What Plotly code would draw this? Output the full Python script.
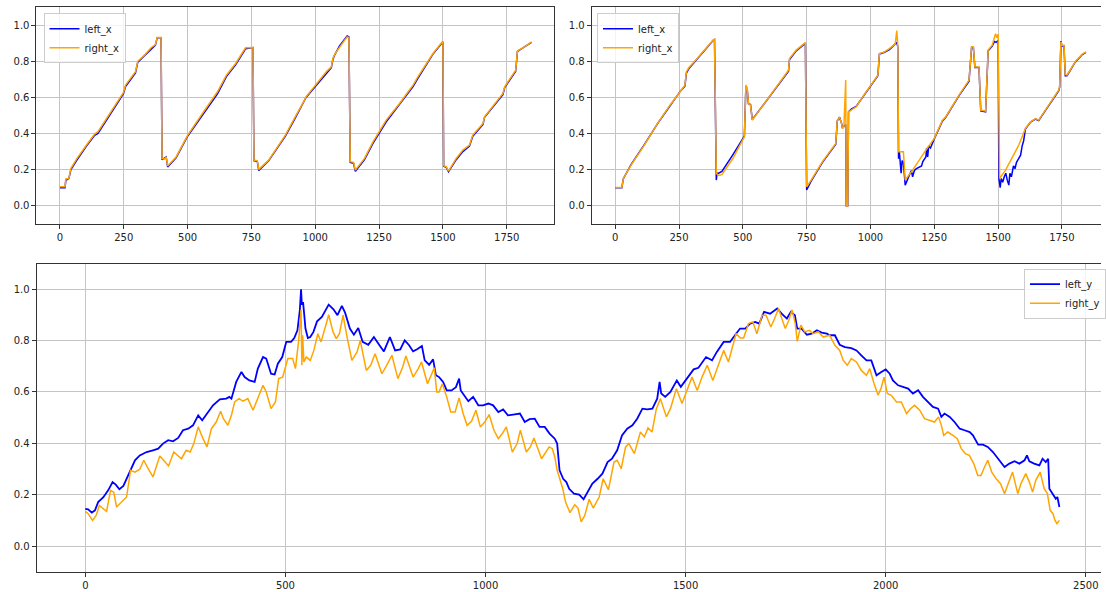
import plotly.graph_objects as go

# ---------------- top-left panel (left_x / right_x) ----------------
tl_idx = [0, 20, 23, 35, 43, 65, 104, 136, 149, 182, 221, 249, 257, 296, 305, 331, 357, 374, 381, 396,
          400, 409, 416, 422, 455, 500, 558, 617, 652, 688, 721, 727, 756, 760, 773, 779, 818, 883, 922, 945,
          958, 964, 997, 1043, 1063, 1069, 1076, 1095, 1115, 1125, 1132, 1137, 1150, 1157, 1193, 1226, 1278, 1330, 1383, 1402,
          1435, 1461, 1487, 1500, 1503, 1513, 1522, 1552, 1578, 1604, 1617, 1657, 1663, 1709, 1735, 1742, 1785, 1792, 1820, 1847]
tl_right_x = [0.105, 0.105, 0.148, 0.151, 0.207, 0.258, 0.336, 0.397, 0.41, 0.483, 0.566, 0.627, 0.668, 0.742, 0.80, 0.834, 0.875, 0.893, 0.932, 0.932,
              0.262, 0.258, 0.27, 0.22, 0.27, 0.39, 0.511, 0.631, 0.723, 0.788, 0.862, 0.875, 0.876, 0.253, 0.249, 0.201, 0.253, 0.391, 0.493, 0.548,
              0.585, 0.603, 0.659, 0.742, 0.769, 0.815, 0.838, 0.88, 0.917, 0.935, 0.932, 0.244, 0.24, 0.197, 0.262, 0.354, 0.474, 0.566, 0.668, 0.714,
              0.788, 0.843, 0.889, 0.911, 0.221, 0.216, 0.192, 0.262, 0.308, 0.336, 0.391, 0.456, 0.493, 0.576, 0.622, 0.659, 0.751, 0.858, 0.880, 0.908]
tl_left_x = [0.10, 0.10, 0.14, 0.15, 0.20, 0.25, 0.33, 0.39, 0.40, 0.475, 0.56, 0.62, 0.66, 0.735, 0.795, 0.83, 0.87, 0.89, 0.93, 0.93,
             0.255, 0.265, 0.27, 0.215, 0.265, 0.385, 0.50, 0.62, 0.715, 0.78, 0.855, 0.87, 0.876, 0.25, 0.245, 0.195, 0.25, 0.385, 0.487, 0.545,
             0.58, 0.60, 0.655, 0.735, 0.765, 0.81, 0.835, 0.885, 0.925, 0.94, 0.935, 0.24, 0.235, 0.19, 0.255, 0.345, 0.465, 0.56, 0.66, 0.705,
             0.78, 0.84, 0.885, 0.908, 0.218, 0.212, 0.188, 0.255, 0.30, 0.33, 0.385, 0.45, 0.49, 0.57, 0.615, 0.655, 0.745, 0.855, 0.878, 0.905]

# ---------------- top-right panel ----------------
tr_right_idx = [0, 26, 32, 62, 114, 166, 217, 256, 273, 279, 288, 321, 359, 383, 389, 396, 405, 418, 460, 502,
                506, 512, 517, 522, 530, 537, 579, 631, 679, 683, 709, 741, 745, 750, 767, 812, 864, 870, 879, 887,
                890, 896, 903, 905, 911, 914, 925, 944, 983, 1029, 1035, 1055, 1074, 1097, 1103, 1107, 1110, 1129, 1136, 1165,
                1217, 1250, 1282, 1295, 1347, 1386, 1396, 1403, 1409, 1425, 1432, 1451, 1461, 1477, 1486, 1490, 1495, 1500, 1506, 1529,
                1581, 1601, 1607, 1627, 1646, 1659, 1685, 1711, 1737, 1741, 1746, 1750, 1758, 1763, 1770, 1802, 1828, 1844]
tr_right_x = [0.101, 0.101, 0.151, 0.225, 0.336, 0.456, 0.561, 0.640, 0.668, 0.742, 0.764, 0.815, 0.88, 0.917, 0.921, 0.179, 0.168, 0.172, 0.26, 0.37,
              0.382, 0.668, 0.653, 0.567, 0.557, 0.474, 0.557, 0.659, 0.751, 0.815, 0.862, 0.899, 0.904, 0.105, 0.14, 0.244, 0.345, 0.474, 0.487, 0.456,
              0.428, 0.437, 0.696, 0.0, 0.0, 0.52, 0.53, 0.548, 0.631, 0.723, 0.843, 0.852, 0.87, 0.897, 0.97, 0.887, 0.299, 0.299, 0.142, 0.197,
              0.308, 0.373, 0.474, 0.493, 0.613, 0.696, 0.88, 0.88, 0.769, 0.769, 0.53, 0.524, 0.862, 0.889, 0.935, 0.953, 0.93, 0.95, 0.151, 0.197,
              0.336, 0.40, 0.428, 0.465, 0.483, 0.474, 0.53, 0.585, 0.64, 0.659, 0.908, 0.889, 0.889, 0.727, 0.724, 0.797, 0.838, 0.852]

tr_left_idx = [0, 26, 32, 62, 114, 166, 217, 256, 273, 279, 288, 321, 359, 383, 389, 396, 399, 405, 418, 460,
               502, 506, 512, 517, 522, 530, 537, 579, 631, 679, 683, 709, 741, 745, 750, 767, 812, 864, 870, 879,
               887, 890, 896, 903, 905, 911, 914, 925, 944, 983, 1029, 1035, 1055, 1074, 1097, 1103, 1107, 1110, 1113, 1116,
               1120, 1124, 1129, 1136, 1146, 1155, 1160, 1165, 1172, 1180, 1190, 1200, 1205, 1211, 1217, 1220, 1224, 1228, 1235, 1250,
               1282, 1295, 1347, 1386, 1396, 1403, 1409, 1425, 1432, 1451, 1461, 1477, 1486, 1492, 1500, 1503, 1508, 1512, 1518, 1524,
               1530, 1536, 1542, 1546, 1552, 1560, 1566, 1572, 1580, 1588, 1594, 1600, 1607, 1627, 1646, 1659, 1685, 1711, 1737, 1741,
               1746, 1750, 1758, 1763, 1770, 1802, 1828, 1844]
tr_left_x = [0.10, 0.10, 0.15, 0.228, 0.338, 0.455, 0.558, 0.636, 0.662, 0.735, 0.758, 0.81, 0.875, 0.915, 0.92, 0.142, 0.18, 0.18, 0.19, 0.28,
             0.378, 0.385, 0.66, 0.645, 0.565, 0.56, 0.477, 0.555, 0.655, 0.745, 0.81, 0.858, 0.895, 0.90, 0.087, 0.135, 0.24, 0.34, 0.47, 0.49,
             0.455, 0.43, 0.44, 0.45, 0.0, 0.0, 0.52, 0.535, 0.55, 0.628, 0.72, 0.84, 0.85, 0.865, 0.895, 0.905, 0.88, 0.26, 0.30, 0.22,
             0.18, 0.25, 0.24, 0.114, 0.15, 0.18, 0.195, 0.16, 0.195, 0.205, 0.215, 0.22, 0.245, 0.262, 0.27, 0.32, 0.27, 0.33, 0.32, 0.37,
             0.47, 0.49, 0.61, 0.69, 0.875, 0.875, 0.765, 0.765, 0.525, 0.52, 0.858, 0.885, 0.91, 0.905, 0.915, 0.151, 0.10, 0.15, 0.13, 0.16,
             0.18, 0.14, 0.114, 0.18, 0.16, 0.22, 0.205, 0.24, 0.26, 0.28, 0.33, 0.36, 0.425, 0.463, 0.48, 0.472, 0.527, 0.582, 0.636, 0.655,
             0.912, 0.885, 0.885, 0.72, 0.72, 0.795, 0.835, 0.85]

# ---------------- bottom panel (left_y / right_y) ----------------
ly_idx = [0, 7, 16, 24, 32, 45, 57, 68, 76, 85, 95, 111, 124, 136, 153, 169, 182, 194, 207, 219,
          232, 244, 257, 269, 282, 292, 304, 319, 336, 352, 360, 365, 377, 390, 398, 410, 423, 431, 444, 452,
          464, 473, 481, 492, 502, 514, 522, 530, 536, 539, 541, 544, 547, 550, 556, 562, 570, 579, 591, 608,
          620, 630, 641, 649, 661, 671, 682, 693, 707, 721, 735, 746, 761, 774, 787, 798, 809, 819, 829, 841,
          848, 859, 869, 876, 884, 894, 903, 915, 926, 934, 938, 949, 957, 969, 982, 994, 1007, 1019, 1032, 1044,
          1056, 1069, 1086, 1098, 1110, 1123, 1135, 1148, 1160, 1173, 1179, 1185, 1194, 1202, 1209, 1221, 1234, 1245, 1255, 1267,
          1280, 1292, 1305, 1316, 1329, 1341, 1354, 1367, 1379, 1392, 1404, 1417, 1429, 1435, 1439, 1449, 1462, 1478, 1488, 1503,
          1520, 1532, 1551, 1566, 1578, 1595, 1611, 1626, 1636, 1649, 1661, 1674, 1684, 1696, 1711, 1729, 1740, 1753, 1763, 1773,
          1779, 1790, 1803, 1815, 1828, 1840, 1853, 1860, 1873, 1885, 1898, 1914, 1927, 1939, 1952, 1964, 1977, 1989, 2000, 2010,
          2018, 2031, 2043, 2056, 2068, 2081, 2093, 2106, 2118, 2131, 2139, 2147, 2160, 2172, 2185, 2197, 2210, 2218, 2231, 2243,
          2255, 2268, 2281, 2297, 2309, 2322, 2334, 2347, 2353, 2359, 2371, 2384, 2392, 2400, 2406, 2409, 2417, 2425, 2429, 2434]
left_y = [0.145, 0.143, 0.13, 0.139, 0.171, 0.19, 0.217, 0.249, 0.239, 0.221, 0.234, 0.288, 0.334, 0.353, 0.366, 0.373, 0.379, 0.399, 0.412, 0.408,
          0.421, 0.451, 0.457, 0.47, 0.509, 0.49, 0.516, 0.548, 0.571, 0.574, 0.581, 0.574, 0.639, 0.678, 0.658, 0.645, 0.639, 0.691, 0.736, 0.73,
          0.671, 0.668, 0.71, 0.736, 0.795, 0.795, 0.81, 0.84, 0.92, 1.0, 0.94, 0.95, 0.90, 0.847, 0.81, 0.814, 0.834, 0.875, 0.892, 0.94,
          0.922, 0.899, 0.935, 0.909, 0.847, 0.823, 0.849, 0.795, 0.784, 0.814, 0.782, 0.758, 0.814, 0.762, 0.766, 0.801, 0.782, 0.758, 0.766, 0.779,
          0.723, 0.706, 0.727, 0.665, 0.658, 0.639, 0.606, 0.606, 0.619, 0.652, 0.606, 0.581, 0.564, 0.581, 0.548, 0.548, 0.555, 0.548, 0.522, 0.532,
          0.509, 0.512, 0.516, 0.483, 0.494, 0.496, 0.464, 0.464, 0.438, 0.418, 0.399, 0.295, 0.262, 0.249, 0.223, 0.204, 0.2, 0.182, 0.21, 0.243,
          0.262, 0.282, 0.327, 0.34, 0.373, 0.431, 0.457, 0.47, 0.496, 0.535, 0.532, 0.535, 0.574, 0.639, 0.594, 0.581, 0.6, 0.645, 0.62, 0.652,
          0.688, 0.694, 0.736, 0.723, 0.756, 0.795, 0.795, 0.827, 0.847, 0.847, 0.866, 0.873, 0.866, 0.912, 0.905, 0.925, 0.905, 0.886, 0.912, 0.899,
          0.847, 0.847, 0.823, 0.827, 0.84, 0.831, 0.827, 0.821, 0.821, 0.784, 0.775, 0.771, 0.762, 0.743, 0.723, 0.723, 0.665, 0.678, 0.688, 0.671,
          0.645, 0.626, 0.619, 0.613, 0.594, 0.607, 0.581, 0.561, 0.542, 0.535, 0.503, 0.516, 0.503, 0.483, 0.457, 0.451, 0.444, 0.431, 0.395, 0.395,
          0.386, 0.366, 0.34, 0.308, 0.321, 0.33, 0.321, 0.334, 0.353, 0.33, 0.321, 0.314, 0.34, 0.327, 0.34, 0.223, 0.204, 0.184, 0.191, 0.152]

ry_idx = [0, 7, 18, 27, 35, 45, 53, 63, 71, 78, 86, 96, 103, 113, 124, 136, 146, 157, 169, 186,
          199, 208, 221, 232, 240, 252, 262, 271, 282, 294, 304, 315, 327, 338, 345, 356, 365, 373, 384, 394,
          406, 419, 431, 444, 452, 464, 475, 483, 493, 506, 518, 525, 533, 537, 539, 541, 543, 546, 552, 562,
          571, 581, 589, 602, 608, 619, 627, 635, 644, 654, 666, 679, 687, 702, 713, 724, 741, 753, 766, 781,
          793, 801, 819, 832, 840, 855, 865, 872, 878, 884, 892, 903, 913, 924, 934, 944, 954, 965, 976, 987,
          998, 1009, 1021, 1032, 1042, 1052, 1067, 1079, 1087, 1102, 1112, 1121, 1140, 1150, 1159, 1167, 1173, 1179, 1187, 1193,
          1200, 1211, 1223, 1231, 1239, 1248, 1259, 1269, 1284, 1294, 1307, 1321, 1329, 1339, 1350, 1358, 1372, 1387, 1397, 1406,
          1416, 1427, 1437, 1452, 1462, 1477, 1491, 1504, 1516, 1529, 1541, 1554, 1568, 1583, 1595, 1607, 1620, 1626, 1637, 1645,
          1657, 1668, 1678, 1691, 1701, 1713, 1724, 1732, 1740, 1749, 1758, 1766, 1774, 1779, 1788, 1798, 1809, 1819, 1832, 1844,
          1860, 1873, 1885, 1894, 1904, 1914, 1927, 1939, 1952, 1960, 1971, 1981, 1988, 1996, 2004, 2014, 2027, 2039, 2052, 2062,
          2072, 2085, 2097, 2110, 2122, 2132, 2139, 2145, 2155, 2168, 2179, 2189, 2199, 2209, 2220, 2230, 2238, 2247, 2255, 2265,
          2276, 2287, 2297, 2306, 2317, 2330, 2338, 2350, 2359, 2367, 2375, 2386, 2396, 2404, 2411, 2418, 2423, 2428, 2434]
right_y = [0.135, 0.126, 0.1, 0.119, 0.158, 0.145, 0.135, 0.217, 0.21, 0.152, 0.165, 0.182, 0.191, 0.295, 0.288, 0.299, 0.334, 0.301, 0.269, 0.351,
           0.327, 0.312, 0.366, 0.353, 0.34, 0.373, 0.366, 0.399, 0.464, 0.418, 0.386, 0.457, 0.483, 0.525, 0.496, 0.47, 0.509, 0.561, 0.574, 0.564,
           0.574, 0.529, 0.574, 0.626, 0.6, 0.535, 0.561, 0.652, 0.658, 0.73, 0.73, 0.691, 0.80, 0.866, 0.92, 0.704, 0.821, 0.717, 0.736, 0.723,
           0.762, 0.827, 0.795, 0.866, 0.901, 0.834, 0.808, 0.827, 0.899, 0.814, 0.723, 0.756, 0.801, 0.684, 0.704, 0.749, 0.671, 0.704, 0.743, 0.652,
           0.697, 0.74, 0.658, 0.691, 0.717, 0.632, 0.665, 0.694, 0.6, 0.6, 0.632, 0.581, 0.522, 0.522, 0.577, 0.516, 0.47, 0.486, 0.529, 0.464,
           0.483, 0.512, 0.451, 0.418, 0.438, 0.464, 0.366, 0.399, 0.451, 0.366, 0.386, 0.421, 0.34, 0.366, 0.386, 0.379, 0.347, 0.295, 0.249, 0.223,
           0.171, 0.13, 0.161, 0.148, 0.094, 0.119, 0.182, 0.148, 0.191, 0.262, 0.219, 0.327, 0.334, 0.301, 0.386, 0.399, 0.36, 0.444, 0.425, 0.46,
           0.444, 0.535, 0.574, 0.503, 0.535, 0.613, 0.555, 0.613, 0.658, 0.606, 0.658, 0.704, 0.645, 0.71, 0.762, 0.717, 0.788, 0.827, 0.81, 0.81,
           0.866, 0.873, 0.827, 0.899, 0.899, 0.853, 0.892, 0.925, 0.888, 0.847, 0.879, 0.92, 0.866, 0.797, 0.86, 0.834, 0.84, 0.827, 0.834, 0.814,
           0.821, 0.782, 0.762, 0.723, 0.704, 0.73, 0.717, 0.684, 0.665, 0.691, 0.632, 0.587, 0.613, 0.658, 0.594, 0.587, 0.561, 0.561, 0.516, 0.535,
           0.548, 0.529, 0.496, 0.49, 0.483, 0.503, 0.47, 0.431, 0.444, 0.431, 0.418, 0.379, 0.36, 0.353, 0.321, 0.275, 0.275, 0.308, 0.334, 0.288,
           0.262, 0.243, 0.204, 0.243, 0.288, 0.204, 0.243, 0.282, 0.249, 0.21, 0.256, 0.288, 0.223, 0.204, 0.139, 0.126, 0.1, 0.087, 0.1]

BLUE = "#0000ff"
ORANGE = "#ffa500"
W, H = 1106, 592

fig = go.Figure()
fig.add_trace(go.Scatter(x=tl_idx, y=tl_left_x, name="left_x", mode="lines",
                         line=dict(color=BLUE, width=1.5), xaxis="x", yaxis="y", legend="legend"))
fig.add_trace(go.Scatter(x=tl_idx, y=tl_right_x, name="right_x", mode="lines",
                         line=dict(color=ORANGE, width=1.5), xaxis="x", yaxis="y", legend="legend"))
fig.add_trace(go.Scatter(x=tr_left_idx, y=tr_left_x, name="left_x", mode="lines",
                         line=dict(color=BLUE, width=1.5), xaxis="x2", yaxis="y2", legend="legend2"))
fig.add_trace(go.Scatter(x=tr_right_idx, y=tr_right_x, name="right_x", mode="lines",
                         line=dict(color=ORANGE, width=1.5), xaxis="x2", yaxis="y2", legend="legend2"))
fig.add_trace(go.Scatter(x=ly_idx, y=left_y, name="left_y", mode="lines",
                         line=dict(color=BLUE, width=1.8), xaxis="x3", yaxis="y3", legend="legend3"))
fig.add_trace(go.Scatter(x=ry_idx, y=right_y, name="right_y", mode="lines",
                         line=dict(color=ORANGE, width=1.5), xaxis="x3", yaxis="y3", legend="legend3"))

FONT = dict(family="DejaVu Sans", size=10, color="#222222")
GRID = "#c4c4c4"


def xax(domain, rng, dtick, anchor):
    return dict(domain=domain, range=rng, dtick=dtick, tick0=0, anchor=anchor,
                showgrid=True, gridcolor=GRID, gridwidth=1, zeroline=False,
                showline=True, linecolor="#333333", linewidth=1, mirror=True,
                ticks="outside", ticklen=4, tickcolor="#333333", tickfont=FONT)


def yax(domain, anchor, mirror=True):
    return dict(domain=domain, range=[-0.1, 1.1], dtick=0.2, tick0=0, tickformat=".1f", anchor=anchor,
                showgrid=True, gridcolor=GRID, gridwidth=1, zeroline=False,
                showline=True, linecolor="#333333", linewidth=1, mirror=mirror,
                ticks="outside", ticklen=4, tickcolor="#333333", tickfont=FONT)


top_dom = [1 - 223.75 / H, 1 - 7.15 / H]
bot_dom = [1 - 571.7 / H, 1 - 263.6 / H]

LEG = dict(bgcolor="rgba(255,255,255,0.8)", bordercolor="#cccccc", borderwidth=1,
           font=dict(family="DejaVu Sans", size=10, color="#222222"),
           xanchor="left", yanchor="top", tracegroupgap=0)

fig.update_layout(
    width=W, height=H, margin=dict(l=0, r=0, t=0, b=0),
    paper_bgcolor="white", plot_bgcolor="white",
    showlegend=True,
    xaxis=xax([36.6 / W, 557 / W], [-92, 1937], 250, "y"),
    yaxis=yax(top_dom, "x"),
    xaxis2=xax([594.4 / W, 1.0], [-92, 1903], 250, "y2"),
    yaxis2=yax(top_dom, "x2", mirror=False),
    xaxis3=xax([36.7 / W, 1.0], [-122, 2538], 500, "y3"),
    yaxis3=yax(bot_dom, "x3", mirror=False),
    legend=dict(LEG, x=43.7 / W, y=1 - 13.3 / H),
    legend2=dict(LEG, x=599.7 / W, y=1 - 13.3 / H),
    legend3=dict(LEG, x=1029 / W, y=1 - 268.7 / H),
)

fig.write_html("out.html")
